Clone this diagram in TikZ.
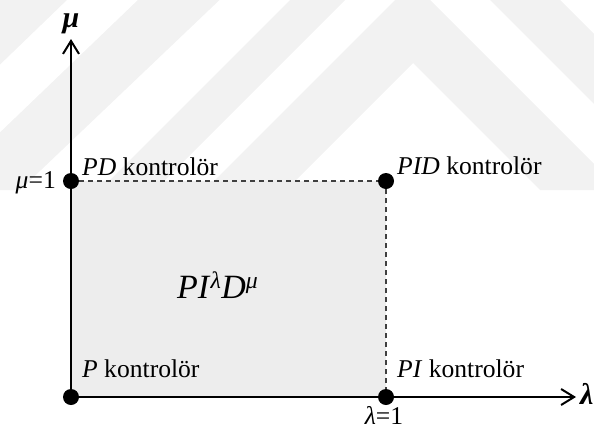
\documentclass[tikz,border=0pt]{standalone}
\usepackage{fontspec}
\setmainfont{Liberation Serif}
\usetikzlibrary{arrows.meta}

\begin{document}
\begin{tikzpicture}[x=1pt,y=-1pt,
  lbl/.style={inner sep=0pt, font=\fontsize{25.6}{30}\selectfont},
  axlbl/.style={inner sep=0pt, font=\fontsize{30}{34}\selectfont\bfseries\itshape},
  dot/.style={circle, fill=black, inner sep=0pt, minimum size=16pt},
  axisline/.style={line width=2pt},
  axisarrow/.style={line width=2pt, -{Straight Barb[length=13pt,width=16pt]}},
  guide/.style={line width=1.6pt, draw=black!75, dash pattern=on 5pt off 4pt},
  wm/.style={fill=black!5},
  region/.style={fill=black!7}]
\useasboundingbox (0,0) rectangle (594,429);

% faint background chevrons
\begin{scope}
  \clip (0,0) rectangle (594,190);
  \fill[wm] (412.5,-17.5) -- (620,190) -- (540,190) -- (413,63) -- (286,190) -- (205,190) -- cycle;
  \fill[wm] (425,-135) -- (750,190) -- (680,190) -- (417.5,-72.5) -- (155,190) -- (100,190) -- cycle;
  \fill[wm] (440,-290) -- (920,190) -- (840,190) -- (440,-210) -- (20,190) -- (-60,190) -- cycle;
  \fill[wm] (440,-440) -- (1070,190) -- (990,190) -- (440,-360) -- (-130,190) -- (-210,190) -- cycle;
\end{scope}

% admissible (lambda, mu) region
\fill[region] (71,181) rectangle (386,397);

% corner points
\node[dot] (O)  at (71,397)  {};
\node[dot] (M)  at (71,181)  {};
\node[dot] (L)  at (386,397) {};
\node[dot] (ML) at (386,181) {};
\coordinate (ytip) at (71,39);
\coordinate (xtip) at (576,397);

% axes and boundaries
\draw[axisline] (O) -- (M);
\draw[axisline] (O) -- (L);
\draw[axisarrow] (M) -- (ytip);
\draw[axisarrow] (L) -- (xtip);
\draw[guide] (M) -- (ML);
\draw[guide] (ML) -- (L);

% labels
\node[lbl, anchor=base east] (mu1) at (56,188) {\textit{μ}=1};
\node[lbl, anchor=base] (la1) at (384,424) {\textit{λ}=1};
\node[lbl, anchor=base west] (pd) at (82,175) {\textit{PD} kontrolör};
\node[lbl, anchor=base west] (pid) at (397,174) {\textit{PID} kontrolör};
\node[lbl, anchor=base west] (p) at (82,377) {\textit{P} kontrolör};
\node[lbl, anchor=base west] (pi) at (397,377) {\textit{PI} kontrolör};
\node[axlbl, anchor=base] (muax) at (71,27) {μ};
\node[axlbl, anchor=base west] (laax) at (580,404) {λ};
\node[inner sep=0pt, anchor=base west, font=\fontsize{34}{38}\selectfont] (frac) at (177,298)
  {\textit{PI}\textsuperscript{\textit{λ}}\textit{D}\textsuperscript{\textit{μ}}};
\end{tikzpicture}
\end{document}
